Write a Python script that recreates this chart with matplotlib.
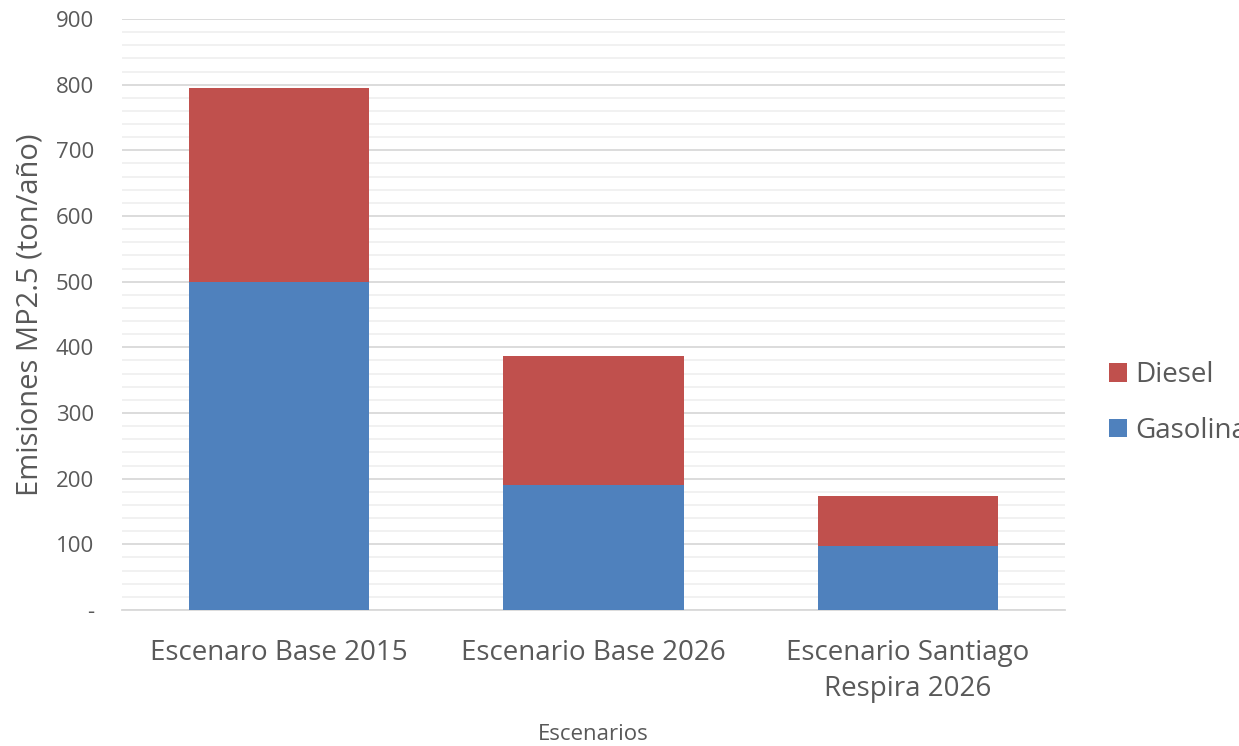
import matplotlib.pyplot as plt
from matplotlib.ticker import MultipleLocator, FuncFormatter

escenarios = ["Escenaro Base 2015", "Escenario Base 2026", "Escenario Santiago\nRespira 2026"]
gasolina = [500, 190, 98]
diesel = [295, 197, 76]

plt.rcParams['font.family'] = ['Open Sans', 'DejaVu Sans']
gris = '#595959'

fig = plt.figure(figsize=(12.39, 7.46), dpi=100)
ax = fig.add_axes([122/1239, 136/746, (1065-122)/1239, (610-19)/746])

x = range(len(escenarios))
b1 = ax.bar(x, gasolina, width=0.573, color='#4f81bd', label='Gasolina', zorder=3)
b2 = ax.bar(x, diesel, width=0.573, bottom=gasolina, color='#c0504d', label='Diesel', zorder=3)

ax.set_xlim(-0.5, 2.5)
ax.set_ylim(0, 900)
ax.yaxis.set_major_locator(MultipleLocator(100))
ax.yaxis.set_minor_locator(MultipleLocator(20))
ax.yaxis.set_major_formatter(FuncFormatter(lambda v, p: '-' if v == 0 else f'{v:.0f}'))
ax.grid(axis='y', which='major', color='#d9d9d9', linewidth=1.3, zorder=0)
ax.grid(axis='y', which='minor', color='#f0f0f0', linewidth=1.3, zorder=0)
for s in ['top', 'right', 'left']:
    ax.spines[s].set_visible(False)
ax.spines['bottom'].set_color('#d9d9d9')
ax.spines['bottom'].set_linewidth(1.3)
ax.tick_params(axis='both', which='both', length=0, colors=gris)
ax.tick_params(axis='y', labelsize=16, pad=20)
ax.set_xticks(list(x))
ax.set_xticklabels(escenarios, fontsize=20, color=gris, linespacing=1.35)
ax.tick_params(axis='x', pad=21)
ax.set_ylabel('Emisiones MP2.5 (ton/año)', fontsize=21, color=gris)
ax.yaxis.set_label_coords(-0.082, 0.5)
ax.set_xlabel('Escenarios', fontsize=16, color=gris)
ax.xaxis.label.set_va('center')
ax.xaxis.set_label_coords(0.5, (610 - 735) / 591)

fig.legend([b2, b1], ['Diesel', 'Gasolina'], loc='center left',
           bbox_to_anchor=(1084/1239, 1 - 403/746), frameon=False,
           fontsize=20, labelcolor=gris, handlelength=0.65, handleheight=0.65,
           handletextpad=0.3, labelspacing=1.0)

fig.savefig('out.png', dpi=100)
